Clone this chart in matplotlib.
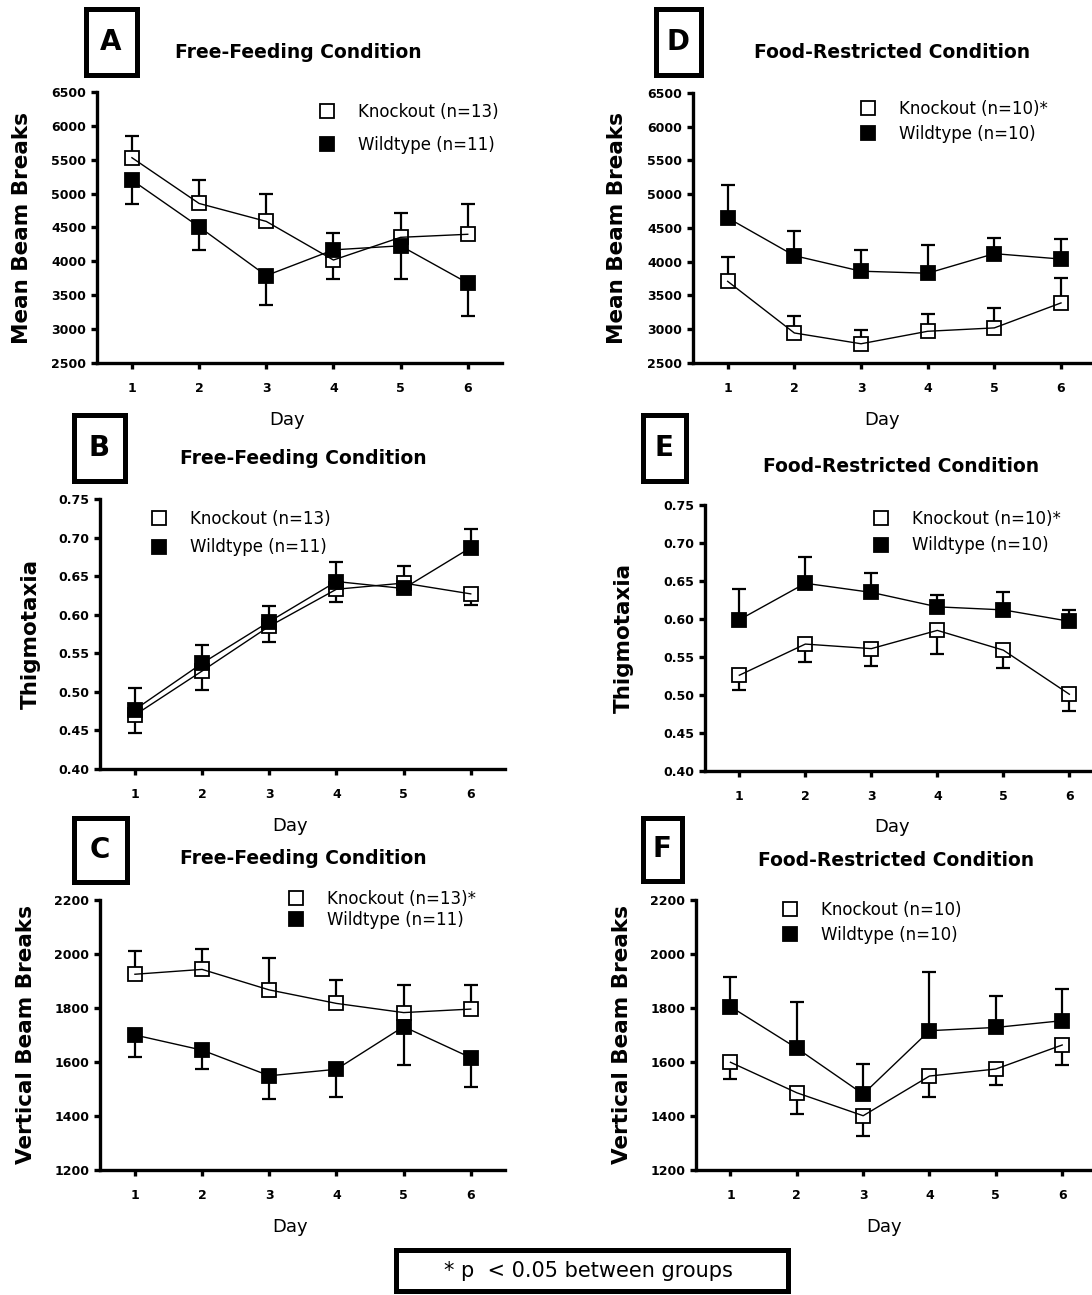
import numpy as np
import matplotlib
matplotlib.use('Agg')
import matplotlib.pyplot as plt
from matplotlib.lines import Line2D
from matplotlib.patches import Rectangle

# days of testing
days = [1, 2, 3, 4, 5, 6]

# A: free-feeding, mean beam breaks (mean and end of the error bar)
ff_beam_ko = [5530, 4855, 4590, 4020, 4355, 4400]
ff_beam_ko_bar = [5845, 5200, 4995, 3745, 4720, 4850]
ff_beam_wt = [5200, 4510, 3790, 4170, 4230, 3680]
ff_beam_wt_bar = [4850, 4175, 3350, 4425, 3745, 3200]

# B: free-feeding, thigmotaxia
ff_thig_ko = [0.470, 0.527, 0.585, 0.633, 0.641, 0.627]
ff_thig_ko_bar = [0.447, 0.502, 0.564, 0.617, 0.663, 0.613]
ff_thig_wt = [0.477, 0.537, 0.591, 0.643, 0.634, 0.687]
ff_thig_wt_bar = [0.505, 0.561, 0.611, 0.668, 0.634, 0.711]

# C: free-feeding, vertical beam breaks
ff_vert_ko = [1925, 1943, 1867, 1817, 1783, 1796]
ff_vert_ko_bar = [2011, 2020, 1986, 1904, 1885, 1885]
ff_vert_wt = [1700, 1644, 1549, 1573, 1731, 1616]
ff_vert_wt_bar = [1620, 1575, 1462, 1472, 1590, 1506]

# D: food-restricted, mean beam breaks
fr_beam_ko = [3710, 2945, 2785, 2970, 3020, 3390]
fr_beam_ko_bar = [4065, 3190, 2995, 3230, 3320, 3760]
fr_beam_wt = [4650, 4090, 3860, 3830, 4120, 4040]
fr_beam_wt_bar = [5140, 4450, 4170, 4255, 4355, 4340]

# E: food-restricted, thigmotaxia
fr_thig_ko = [0.526, 0.567, 0.561, 0.585, 0.559, 0.501]
fr_thig_ko_bar = [0.506, 0.544, 0.538, 0.554, 0.536, 0.479]
fr_thig_wt = [0.599, 0.647, 0.635, 0.616, 0.612, 0.597]
fr_thig_wt_bar = [0.640, 0.682, 0.660, 0.631, 0.635, 0.612]

# F: food-restricted, vertical beam breaks
fr_vert_ko = [1599, 1486, 1401, 1548, 1574, 1663]
fr_vert_ko_bar = [1536, 1409, 1326, 1472, 1515, 1589]
fr_vert_wt = [1805, 1651, 1481, 1716, 1728, 1753]
fr_vert_wt_bar = [1916, 1822, 1593, 1935, 1846, 1870]

beam_ticks = [2500, 3000, 3500, 4000, 4500, 5000, 5500, 6000, 6500]
thig_ticks = [0.40, 0.45, 0.50, 0.55, 0.60, 0.65, 0.70, 0.75]
vert_ticks = [1200, 1400, 1600, 1800, 2000, 2200]

ff_title = 'Free-Feeding Condition'
fr_title = 'Food-Restricted Condition'
footnote = '* p  < 0.05 between groups'

W, H = 1092, 1295
plt.rcParams['font.family'] = ['DejaVu Sans']
fig = plt.figure(figsize=(W / 100, H / 100), dpi=100)
fs_leg = 12
fs_leg_px = fs_leg * 100 / 72


def px_axes(left, top, right, bottom):
    return fig.add_axes([left / W, 1 - bottom / H, (right - left) / W, (bottom - top) / H])


def draw_panel(ax, ko, ko_bar, wt, wt_bar, ticks, fmt, ylabel, labels, ylab_x, leg):
    z = 2
    for mean, bar, face in ((ko, ko_bar, 'white'), (wt, wt_bar, 'black')):
        ax.vlines(days, mean, bar, colors='black', lw=1.6, zorder=z, clip_on=False)
        ax.plot(days, bar, ls='none', marker='_', ms=9.5, mew=1.6, color='black',
                zorder=z, clip_on=False)
        ax.plot(days, mean, ls='none', marker='s', ms=9.5, mfc=face, mec='black', mew=1.3,
                zorder=z + 1, clip_on=False)
        ax.plot(days, mean, color='black', lw=1.0, zorder=z + 1.5, clip_on=False)
        z += 2

    ax.set_xlim(0.48, 6.51)
    ax.set_ylim(ticks[0], ticks[-1])
    ax.set_xticks(days)
    ax.set_yticks(ticks)
    ax.set_yticklabels([fmt % t for t in ticks])
    for s in ['top', 'right']:
        ax.spines[s].set_visible(False)
    for s in ['left', 'bottom']:
        ax.spines[s].set_linewidth(2.4)
    ax.tick_params(axis='both', length=4.3, width=2.4, labelsize=9)
    ax.tick_params(axis='y', pad=3.5)
    ax.tick_params(axis='x', pad=9.5)
    for t in ax.get_xticklabels() + ax.get_yticklabels():
        t.set_fontweight('bold')

    ax.set_ylabel(ylabel, fontsize=15.5, fontweight='bold', va='center')
    ax.yaxis.set_label_coords(ylab_x, 0.5)
    ax.set_xlabel('Day', fontsize=13, va='center')
    ax.xaxis.set_label_coords(0.47, -0.21)

    mx, y1, y2 = leg
    handles = [Line2D([], [], ls='none', marker='s', ms=9.5, mfc='white', mec='black', mew=1.3),
               Line2D([], [], ls='none', marker='s', ms=9.5, mfc='black', mec='black', mew=1.3)]
    # text starts ~31 px right of the marker centre
    ax.legend(handles, labels, loc='center left',
              bbox_to_anchor=((mx - fs_leg_px / 2) / W, 1 - (y1 + y2) / 2 / H),
              bbox_transform=fig.transFigure, frameon=False, borderpad=0, borderaxespad=0,
              handlelength=1.0, handletextpad=31 / fs_leg_px - 0.5, numpoints=1,
              labelspacing=(y2 - y1 - 1.16 * fs_leg_px) / fs_leg_px, fontsize=fs_leg)


def letter_box(x0, y0, x1, y1, letter):
    inset = 2.5
    fig.add_artist(Rectangle(((x0 + inset) / W, 1 - (y1 - inset) / H),
                             (x1 - x0 - 2 * inset) / W, (y1 - y0 - 2 * inset) / H,
                             transform=fig.transFigure, fill=False, lw=3.6, color='black'))
    fig.text((x0 + x1) / 2 / W, 1 - (y0 + y1) / 2 / H, letter, ha='center', va='center',
             fontsize=20, fontweight='bold')


def title(cx, cy, s):
    fig.text(cx / W, 1 - cy / H, s, ha='center', va='center', fontsize=13.5, fontweight='bold')


# A
ax = px_axes(97, 92, 502, 363)
draw_panel(ax, ff_beam_ko, ff_beam_ko_bar, ff_beam_wt, ff_beam_wt_bar, beam_ticks, '%d',
           'Mean Beam Breaks', ['Knockout (n=13)', 'Wildtype (n=11)'], -0.185, (327, 111, 146))
letter_box(83, 7, 139, 77, 'A')
title(298, 53, ff_title)

# B
ax = px_axes(100, 499, 505, 769)
draw_panel(ax, ff_thig_ko, ff_thig_ko_bar, ff_thig_wt, ff_thig_wt_bar, thig_ticks, '%.2f',
           'Thigmotaxia', ['Knockout (n=13)', 'Wildtype (n=11)'], -0.17, (159, 518, 548))
letter_box(71, 412, 127, 483, 'B')
title(303, 458, ff_title)

# C
ax = px_axes(100, 900, 505, 1170)
draw_panel(ax, ff_vert_ko, ff_vert_ko_bar, ff_vert_wt, ff_vert_wt_bar, vert_ticks, '%d',
           'Vertical Beam Breaks', ['Knockout (n=13)*', 'Wildtype (n=11)'], -0.183, (296, 898, 921))
letter_box(71, 815, 129, 884, 'C')
title(303, 859, ff_title)

# D
ax = px_axes(693, 93, 1095, 363)
draw_panel(ax, fr_beam_ko, fr_beam_ko_bar, fr_beam_wt, fr_beam_wt_bar, beam_ticks, '%d',
           'Mean Beam Breaks', ['Knockout (n=10)*', 'Wildtype (n=10)'], -0.19, (868, 108, 135))
letter_box(653, 7, 703, 77, 'D')
title(892, 53, fr_title)

# E
ax = px_axes(705, 505, 1103, 771)
draw_panel(ax, fr_thig_ko, fr_thig_ko_bar, fr_thig_wt, fr_thig_wt_bar, thig_ticks, '%.2f',
           'Thigmotaxia', ['Knockout (n=10)*', 'Wildtype (n=10)'], -0.204, (881, 518, 546))
letter_box(640, 412, 688, 483, 'E')
title(901, 467, fr_title)

# F
ax = px_axes(696, 900, 1096, 1170)
draw_panel(ax, fr_vert_ko, fr_vert_ko_bar, fr_vert_wt, fr_vert_wt_bar, vert_ticks, '%d',
           'Vertical Beam Breaks', ['Knockout (n=10)', 'Wildtype (n=10)'], -0.185, (790, 909, 936))
letter_box(640, 815, 684, 883, 'F')
title(896, 860, fr_title)

# footnote box
fig.add_artist(Rectangle((395.5 / W, 1 - 1291 / H), 392 / W, 41.5 / H,
                         transform=fig.transFigure, fill=False, lw=3.6, color='black'))
fig.text(588 / W, 1 - 1271 / H, footnote, ha='center', va='center', fontsize=15)

fig.savefig('out.png', dpi=100)
